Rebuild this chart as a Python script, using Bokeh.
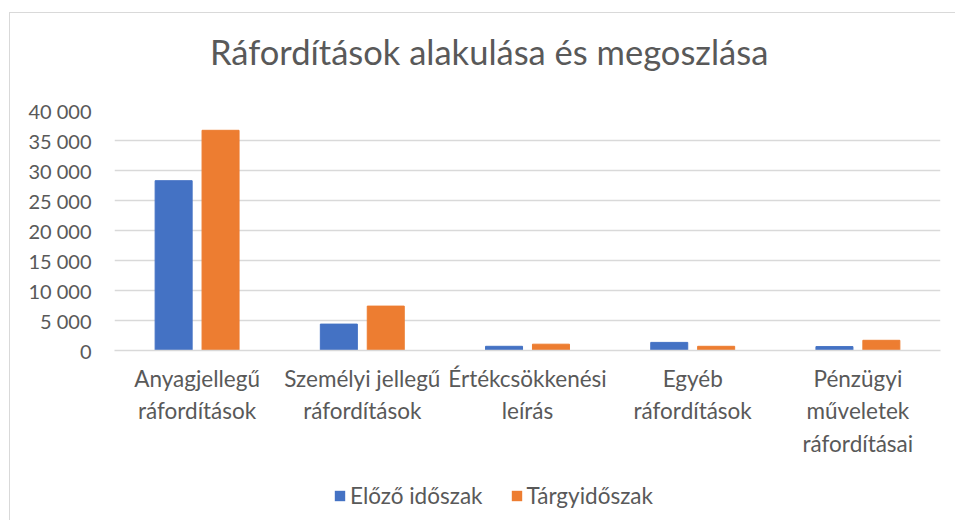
from bokeh.plotting import figure
from bokeh.layouts import column
from bokeh.models import FactorRange, Range1d, FixedTicker, Legend, LegendItem, Div
from bokeh.transform import dodge
from bokeh.embed import file_html
from bokeh.resources import INLINE

categories = ["Anyagjellegű\nráfordítások", "Személyi jellegű\nráfordítások",
              "Értékcsökkenési\nleírás", "Egyéb\nráfordítások",
              "Pénzügyi\nműveletek\nráfordításai"]
previous = [28300, 4400, 700, 1350, 650]
current = [36700, 7400, 1050, 700, 1700]
series_names = ["Előző időszak", "Tárgyidőszak"]
y_ticks = [0, 5000, 10000, 15000, 20000, 25000, 30000, 35000, 40000]
y_tick_labels = ["0", "5 000", "10 000", "15 000", "20 000", "25 000", "30 000", "35 000", "40 000"]
title_text = "Ráfordítások alakulása és megoszlása"

FONT = "Lato"
GRAY = "#595959"
GRID = "#D9D9D9"
BLUE = "#4472C4"
ORANGE = "#ED7D31"

data = dict(cat=categories, prev=previous, cur=current)

title_div = Div(text=('<div style="padding-left:200px;padding-top:18px;font-family:Lato;'
                      'font-size:34.5px;line-height:1.2;color:#595959;white-space:nowrap">'
                      + title_text + '</div>'),
                width=945, height=60, margin=0)

p = figure(width=945, height=397, x_range=FactorRange(*categories), y_range=Range1d(0, 40000),
           output_backend="svg", toolbar_location=None,
           min_border_left=104, min_border_right=15, min_border_top=37, min_border_bottom=120)
p.outline_line_color = None
p.background_fill_color = "white"
p.border_fill_color = "white"

r1 = p.vbar(x=dodge("cat", -0.142, range=p.x_range), top="prev", width=0.224, source=data,
            fill_color=BLUE, line_color=BLUE)
r2 = p.vbar(x=dodge("cat", 0.142, range=p.x_range), top="cur", width=0.224, source=data,
            fill_color=ORANGE, line_color=ORANGE)

p.xgrid.grid_line_color = None
p.ygrid.grid_line_color = GRID
p.ygrid.grid_line_width = 1.5
p.yaxis.ticker = FixedTicker(ticks=y_ticks)
p.yaxis.major_label_overrides = {t: l for t, l in zip(y_ticks, y_tick_labels)}
p.yaxis.axis_line_color = None
p.yaxis.major_tick_line_color = None
p.yaxis.minor_tick_line_color = None
p.yaxis.major_label_standoff = 17
p.yaxis.major_label_text_font = FONT
p.yaxis.major_label_text_font_size = "20px"
p.yaxis.major_label_text_color = GRAY

p.xaxis.axis_line_color = GRID
p.xaxis.axis_line_width = 1.5
p.xaxis.major_tick_line_color = None
p.xaxis.minor_tick_line_color = None
p.xaxis.major_label_standoff = 8
p.xaxis.major_label_text_font = FONT
p.xaxis.major_label_text_font_size = "22.5px"
p.xaxis.major_label_text_color = GRAY
p.xaxis.major_label_text_line_height = 1.22

# legend strip below the chart (zero-width proxy bars, far outside its visible range)
leg = figure(width=945, height=50, output_backend="svg", toolbar_location=None,
             x_range=FactorRange(*categories), y_range=Range1d(-200000, -100000),
             x_axis_location=None, y_axis_location=None,
             min_border_left=0, min_border_right=0, min_border_top=0, min_border_bottom=0)
leg.outline_line_color = None
leg.xgrid.grid_line_color = None
leg.ygrid.grid_line_color = None
lr1 = leg.vbar(x=dodge("cat", -0.142, range=leg.x_range), top="prev", width=0,
               source=data, fill_color=BLUE, line_color=None)
lr2 = leg.vbar(x=dodge("cat", 0.142, range=leg.x_range), top="cur", width=0,
               source=data, fill_color=ORANGE, line_color=None)

legend = Legend(items=[LegendItem(label=series_names[0], renderers=[lr1]),
                       LegendItem(label=series_names[1], renderers=[lr2])],
                orientation="horizontal", location=(219, 11))
legend.border_line_color = None
legend.background_fill_alpha = 0
legend.padding = 0
legend.margin = 0
legend.glyph_width = 13
legend.glyph_height = 13
legend.label_standoff = 4
legend.spacing = 27
legend.label_text_font = FONT
legend.label_text_font_size = "22.5px"
legend.label_text_color = GRAY
leg.add_layout(legend, "center")

layout = column(title_div, p, leg, spacing=0,
                styles={"margin-left": "9px", "margin-top": "12px",
                        "border-top": "1px solid #D9D9D9", "border-left": "1px solid #D9D9D9"})

open("out.html", "w").write(file_html(layout, INLINE))
